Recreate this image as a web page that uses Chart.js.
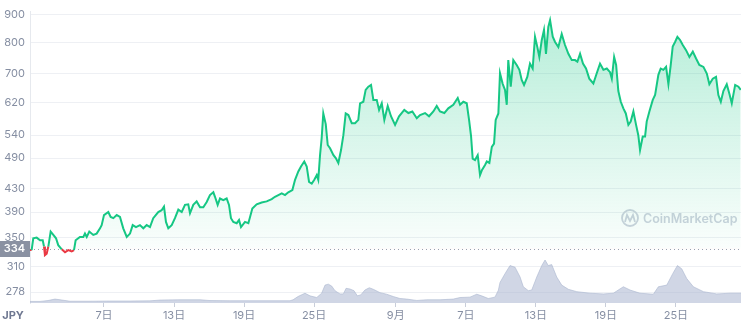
<!DOCTYPE html>
<html>
<head>
<meta charset="utf-8">
<script src="https://cdn.jsdelivr.net/npm/chart.js@4.4.1/dist/chart.umd.min.js"></script>
<style>
html, body { margin: 0; padding: 0; background: #fff; }
#wrap { width: 748px; height: 326px; }
</style>
</head>
<body>
<div id="wrap"><canvas id="price-chart" width="748" height="326"></canvas></div>
<script>
// day numbers: 1 = Aug 1st 00:00, 32 = Sep 1st
const priceDays = [0.66,0.80,0.94,1.23,1.52,1.75,1.86,1.94,2.09,2.23,2.43,2.66,2.89,3.08,3.38,3.66,3.94,4.23,4.43,4.57,
    4.94,5.23,5.37,5.52,5.74,6.08,6.37,6.66,6.80,7.00,7.37,7.57,7.80,8.09,8.37,8.65,8.95,9.23,9.46,9.74,
    10.08,10.37,10.66,10.94,11.22,11.65,11.94,12.14,12.31,12.51,12.80,13.08,13.37,
    13.66,13.94,14.22,14.37,14.65,14.94,15.23,15.51,15.80,16.08,16.37,16.51,16.74,16.94,17.22,17.51,17.71,17.88,18.08,18.37,
    18.57,18.74,19.08,19.37,19.71,20.08,20.51,20.94,21.37,21.65,21.94,22.23,22.51,22.79,23.14,23.37,23.65,23.88,24.16,24.37,
    24.57,24.80,25.02,25.23,25.36,25.51,25.65,25.79,26.00,26.17,
    26.37,26.66,26.86,27.08,27.31,27.51,27.71,27.94,28.23,28.51,28.79,28.94,29.22,29.42,29.65,29.88,30.08,30.37,30.57,30.80,
    31.02,31.31,31.59,31.94,32.28,32.73,33.08,33.42,33.80,34.08,34.51,34.85,35.22,35.51,35.79,36.16,36.50,36.93,37.31,37.51,
    37.79,38.08,38.28,38.45,38.59,38.79,39.02,39.22,39.39,39.65,
    39.80,40.02,40.23,40.42,40.56,40.79,40.93,41.16,41.36,41.51,41.64,41.85,42.07,42.36,42.59,42.79,42.99,43.27,43.50,43.73,
    43.93,44.13,44.30,44.51,44.70,44.87,45.07,45.22,45.45,45.65,45.93,46.22,46.50,46.79,47.08,47.36,47.56,47.79,48.04,48.30,
    48.58,48.93,49.22,49.50,49.79,50.08,50.36,
    50.51,50.71,50.88,51.07,51.28,51.50,51.71,51.93,52.13,52.36,52.59,52.78,52.93,53.16,53.36,53.50,53.73,54.02,54.22,54.50,
    54.70,54.93,55.16,55.36,55.56,55.73,55.93,56.13,56.36,56.59,56.87,57.16,57.45,57.73,58.01,58.36,58.65,58.87,59.16,59.44,
    59.64,59.85,60.07,60.36,60.59,60.79,61.08,61.36,61.56];

const prices = [332,332,349,350,346,346,337,325,327,337,359,354,349,339,333,329,332,330,332,346,
    351,351,356,351,359,354,356,364,369,385,390,382,380,385,382,364,351,356,369,366,
    369,364,369,366,380,390,393,399,374,364,369,380,394,
    390,402,403,388,402,408,398,398,407,419,424,416,402,413,410,413,402,380,374,372,
    377,366,374,372,396,403,406,408,412,416,419,422,419,424,428,447,463,473,483,473,
    443,440,447,456,447,496,533,592,566,518,
    511,496,490,480,507,540,592,588,568,568,576,618,622,654,663,668,627,627,601,618,
    576,611,585,564,585,601,593,597,580,588,593,585,597,611,597,593,605,614,632,614,
    622,618,576,538,489,486,496,456,466,476,
    483,480,514,521,576,592,702,671,654,614,742,663,742,727,712,682,668,691,731,716,
    819,784,752,808,843,762,854,879,819,801,784,829,791,762,742,742,737,762,731,716,
    686,672,702,731,712,716,705,
    686,752,727,651,622,605,592,564,572,597,564,540,507,537,537,572,597,627,640,697,
    716,712,721,670,727,786,801,819,808,791,774,752,769,747,727,721,701,670,686,691,
    640,622,651,670,643,618,668,663,654];

const volumeDays = [0.66,1.52,2.20,2.80,3.40,4.09,5.80,7.51,9.23,10.94,11.80,13.51,15.23,16.08,17.80,19.51,21.22,22.94,23.20,
    23.62,24.22,24.65,25.23,25.65,25.94,26.22,26.51,26.79,27.22,27.51,27.74,28.08,28.42,28.71,29.00,29.36,29.73,30.08,30.65,
    31.22,31.79,32.36,32.94,33.80,34.65,35.79,36.93,37.51,38.36,38.94,39.36,39.93,40.50,40.79,40.93,41.36,41.79,42.22,42.65,
    42.93,43.36,43.65,44.08,44.51,44.79,45.07,45.36,45.79,46.22,46.79,47.51,48.65,49.79,50.64,51.50,52.07,52.93,54.07,54.50,
    55.22,55.73,56.13,56.50,56.93,57.50,58.36,59.50,60.64,61.58];

const volumes = [16,16,25,40,30,18,18,20,20,22,30,33,33,25,23,23,23,23,33,
    66,100,73,56,100,183,193,173,126,93,93,150,143,126,73,83,133,156,140,106,
    90,66,46,40,26,33,33,40,56,60,90,73,46,60,130,210,300,383,366,266,
    166,126,133,266,383,440,383,393,266,183,140,116,100,93,100,166,133,100,90,166,
    183,300,383,350,250,166,116,93,100,100];

const yTickValues = [900, 800, 700, 620, 540, 490, 430, 390, 350, 310, 278];
const xTickDays = [7, 13, 19, 25, 32, 38, 44, 50, 56];
const xTickLabels = ['7日', '13日', '19日', '25日', '9月', '7日', '13日', '19日', '25日'];
const baseline = 334;

const green = '#16c784';
const red = '#ea3943';
const labelColor = '#858ea2';

Chart.defaults.font.family = "Inter, 'Noto Sans CJK JP', sans-serif";

const overlayPlugin = {
    id: 'overlay',
    beforeDatasetsDraw(chart) {
        const { ctx, chartArea } = chart;
        const yBase = chart.scales.y.getPixelForValue(baseline);

        // watermark
        ctx.save();
        const wx = chartArea.right - 111;
        const wy = chartArea.bottom - 85;
        ctx.strokeStyle = '#cdd2dd';
        ctx.lineWidth = 1.8;
        ctx.beginPath();
        ctx.arc(wx, wy, 8, 0, Math.PI * 2);
        ctx.stroke();
        ctx.beginPath();
        ctx.moveTo(wx - 5, wy + 4);
        ctx.lineTo(wx - 3, wy - 3);
        ctx.lineTo(wx, wy + 3);
        ctx.lineTo(wx + 3, wy - 3);
        ctx.lineTo(wx + 5, wy + 4);
        ctx.stroke();
        ctx.fillStyle = '#cdd2dd';
        ctx.font = "600 12.5px Inter, sans-serif";
        ctx.textBaseline = 'middle';
        ctx.fillText('CoinMarketCap', wx + 13, wy + 1);
        ctx.restore();

        // dotted baseline
        ctx.save();
        ctx.strokeStyle = '#9aa1b0';
        ctx.lineWidth = 1;
        ctx.setLineDash([1, 3]);
        ctx.beginPath();
        ctx.moveTo(chartArea.left, Math.round(yBase) + 0.5);
        ctx.lineTo(chartArea.right, Math.round(yBase) + 0.5);
        ctx.stroke();
        ctx.restore();
    },
    afterDraw(chart) {
        const { ctx, chartArea } = chart;
        const yBase = Math.round(chart.scales.y.getPixelForValue(baseline));
        ctx.save();
        ctx.fillStyle = '#8a91a2';
        ctx.fillRect(0, yBase - 8, chartArea.left, 16);
        ctx.fillStyle = '#fff';
        ctx.font = "600 11px Inter, sans-serif";
        ctx.textAlign = 'right';
        ctx.textBaseline = 'middle';
        ctx.fillText(String(baseline), chartArea.left - 5, yBase);

        ctx.fillStyle = '#6f7891';
        ctx.font = "700 11px Inter, sans-serif";
        ctx.textAlign = 'center';
        ctx.fillText('JPY', 13, chartArea.bottom + 13);
        ctx.restore();
    }
};

const canvas = document.getElementById('price-chart');

const priceChart = new Chart(canvas, {
    type: 'line',
    data: {
        datasets: [{
            label: 'Price',
            data: priceDays.map((d, i) => ({ x: d, y: prices[i] })),
            yAxisID: 'y',
            borderColor: green,
            borderWidth: 2,
            pointRadius: 0,
            tension: 0,
            fill: { target: { value: baseline }, above: 'rgba(22,199,132,0.15)', below: 'rgba(234,57,67,0.08)' },
            segment: {
                borderColor: c => (c.p0.parsed.y + c.p1.parsed.y) / 2 < baseline ? red : green
            }
        }, {
            label: 'Volume',
            data: volumeDays.map((d, i) => ({ x: d, y: volumes[i] })),
            yAxisID: 'yVol',
            borderColor: 'rgba(170,181,207,0.6)',
            borderWidth: 1,
            backgroundColor: 'rgba(170,181,207,0.55)',
            pointRadius: 0,
            tension: 0,
            fill: 'origin'
        }]
    },
    options: {
        responsive: false,
        animation: false,
        devicePixelRatio: 1,
        layout: { padding: { top: 5, right: 7, left: 0, bottom: 0 } },
        plugins: {
            legend: { display: false },
            tooltip: { enabled: false }
        },
        scales: {
            x: {
                type: 'linear',
                min: 0.66,
                max: 61.58,
                afterBuildTicks: scale => { scale.ticks = xTickDays.map(v => ({ value: v })); },
                afterFit: scale => { scale.height = 23; },
                ticks: {
                    color: labelColor,
                    font: { size: 11 },
                    padding: 2,
                    maxRotation: 0,
                    autoSkip: false,
                    callback: value => xTickLabels[xTickDays.indexOf(value)]
                },
                grid: { drawOnChartArea: false, drawTicks: true, tickLength: 4, color: '#c9ceda' },
                border: { display: false }
            },
            y: {
                type: 'logarithmic',
                position: 'left',
                min: 265,
                max: 937,
                afterBuildTicks: scale => { scale.ticks = yTickValues.map(v => ({ value: v })); },
                afterFit: scale => { scale.width = 30; },
                ticks: {
                    color: labelColor,
                    font: { size: 11 },
                    padding: 5,
                    autoSkip: false,
                    callback: value => String(value)
                },
                grid: { color: '#eef0f4', drawTicks: false },
                border: { display: true, color: '#e6e9ee' }
            },
            yVol: {
                type: 'linear',
                display: false,
                min: 0,
                max: 2980
            }
        }
    },
    plugins: [overlayPlugin]
});

// fit the log range to the real plot box so 900 sits near the top and 278 near the volume band
const area = priceChart.chartArea;
const pxPerLn = (292 - 14.5) / Math.log(900 / 278);
priceChart.options.scales.y.max = 900 * Math.exp((14.5 - area.top) / pxPerLn);
priceChart.options.scales.y.min = 278 * Math.exp(-(area.bottom - 292) / pxPerLn);
priceChart.options.scales.yVol.max = 440 * (area.bottom - area.top) / (area.bottom - 260);
priceChart.update('none');

// green gradient from the top of the plot down to the baseline
const yBasePx = priceChart.scales.y.getPixelForValue(baseline);
const grad = canvas.getContext('2d').createLinearGradient(0, area.top, 0, yBasePx);
grad.addColorStop(0, 'rgba(22,199,132,0.32)');
grad.addColorStop(1, 'rgba(22,199,132,0.02)');
priceChart.data.datasets[0].fill.above = grad;
priceChart.update('none');
</script>
</body>
</html>
